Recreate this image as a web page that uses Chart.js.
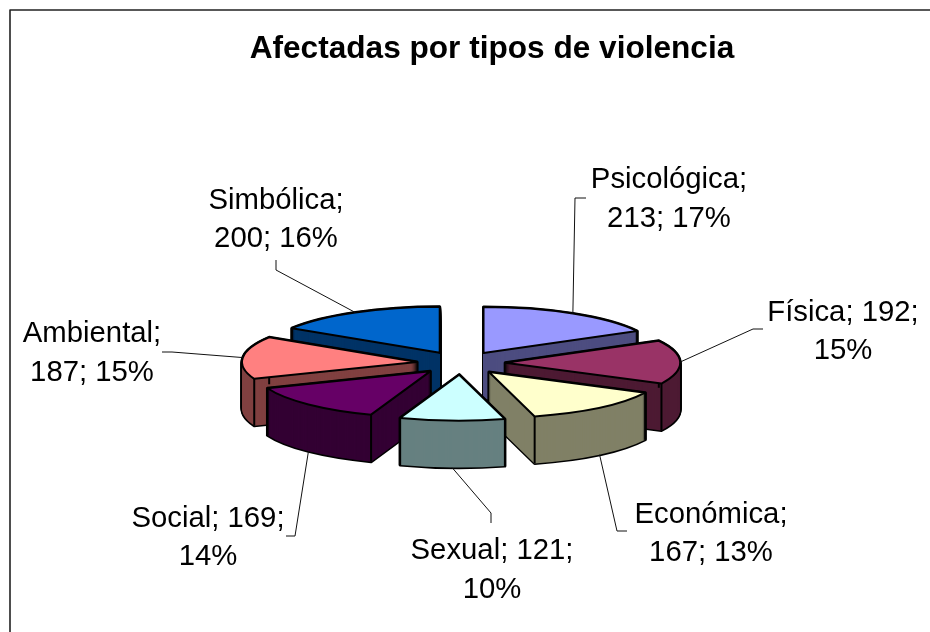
<!DOCTYPE html>
<html>
<head>
<meta charset="utf-8">
<title>Afectadas por tipos de violencia</title>
<script src="https://cdn.jsdelivr.net/npm/chart.js@4"></script>
<style>
  html, body { margin: 0; padding: 0; background: #fff; }
  canvas { display: block; }
</style>
</head>
<body>
<canvas id="chart" width="930" height="632"></canvas>
<script>
const categories = ['Psicológica', 'Física', 'Económica', 'Sexual', 'Social', 'Ambiental', 'Simbólica'];
const values = [213, 192, 167, 121, 169, 187, 200];
const percents = [17, 15, 13, 10, 14, 15, 16];
const topColors = ['#9999FF', '#993366', '#FFFFCC', '#CCFFFF', '#660066', '#FF8080', '#0066CC'];
const wallColors = ['#4D4D80', '#4D1A33', '#808066', '#668080', '#330033', '#804040', '#003366'];

// how the flat pie is tilted on the page
const center = { x: 461, y: 363 };
const tilt = 0.263;
const depth = 47;
const explode = 44;

// label lines: [centre x, first baseline, second baseline, break right after the name?]
const labelPos = [
  [669, 188, 227, true],
  [843, 321, 359, false],
  [711, 523, 561, true],
  [492, 559, 598, false],
  [208, 527, 565, false],
  [92, 342, 381, true],
  [276, 209, 247, true]
];
// leader line: elbow point, then the short tick towards the label
const leaderPos = [
  [575, 198, 586, 198],
  [753, 329, 763, 329],
  [617, 531, 627, 531],
  [491, 513, 491, 523],
  [295, 536, 286, 536],
  [172, 352, 162, 352],
  [276, 270, 276, 260]
];

function sliceGeom(el) {
  const mid = (el.startAngle + el.endAngle) / 2;
  // arc.draw nudges small slices outwards a little, follow it
  const off = explode + 1 - Math.sin(Math.min(Math.PI, el.circumference));
  return {
    mid,
    x: center.x + Math.cos(mid) * off,
    y: center.y + Math.sin(mid) * off * tilt,
    r: el.outerRadius
  };
}

function rimPoint(g, angle) {
  return [g.x + Math.cos(angle) * g.r, g.y + Math.sin(angle) * g.r * tilt];
}

function traceSlice(ctx, el, dz) {
  const g = sliceGeom(el);
  ctx.beginPath();
  ctx.moveTo(g.x, g.y + dz);
  ctx.ellipse(g.x, g.y + dz, g.r, g.r * tilt, 0, el.startAngle, el.endAngle);
  ctx.closePath();
}

function fillArc(ctx, el, color, dz) {
  const mid = (el.startAngle + el.endAngle) / 2;
  const old = el.options.backgroundColor;
  el.options.backgroundColor = color;
  ctx.save();
  ctx.translate(center.x, center.y + dz);
  ctx.scale(1, tilt);
  ctx.translate(Math.cos(mid) * explode - el.x, Math.sin(mid) * explode - el.y);
  el.draw(ctx);
  ctx.restore();
  el.options.backgroundColor = old;
}

const tiltedPie = {
  id: 'tiltedPie',
  beforeDatasetsDraw(chart) {
    const ctx = chart.ctx;
    const arcs = chart.getDatasetMeta(0).data.map((el, i) => ({ el, i }));
    // back slices first
    arcs.sort((a, b) => Math.sin((a.el.startAngle + a.el.endAngle) / 2) - Math.sin((b.el.startAngle + b.el.endAngle) / 2));
    ctx.lineJoin = 'round';
    arcs.forEach(({ el, i }) => {
      const g = sliceGeom(el);
      ctx.strokeStyle = '#000';
      ctx.lineWidth = 3;
      for (let dz = depth; dz >= 0; dz--) {
        traceSlice(ctx, el, dz);
        ctx.stroke();
      }
      for (let dz = depth; dz >= 0; dz--) fillArc(ctx, el, wallColors[i], dz);
      ctx.lineWidth = 2;
      [el.startAngle, el.endAngle].forEach(a => {
        const p = rimPoint(g, a);
        ctx.beginPath();
        ctx.moveTo(p[0], p[1]);
        ctx.lineTo(p[0], p[1] + depth);
        ctx.stroke();
      });
      fillArc(ctx, el, topColors[i], 0);
      traceSlice(ctx, el, 0);
      ctx.stroke();
    });
    return false;
  },
  afterDraw(chart) {
    const ctx = chart.ctx;
    // frame: only the top and left edges show in the picture
    ctx.strokeStyle = '#222';
    ctx.lineWidth = 1.6;
    ctx.beginPath();
    ctx.moveTo(10, 632);
    ctx.lineTo(10, 10);
    ctx.lineTo(930, 10);
    ctx.stroke();

    chart.getDatasetMeta(0).data.forEach((el, i) => {
      const g = sliceGeom(el);
      const rim = rimPoint(g, g.mid);
      const front = Math.sin(g.mid) > 0.3;
      const lead = leaderPos[i];
      ctx.strokeStyle = '#111';
      ctx.lineWidth = 1;
      ctx.beginPath();
      ctx.moveTo(rim[0], rim[1] + (front ? depth : 0));
      ctx.lineTo(lead[0], lead[1]);
      ctx.lineTo(lead[2], lead[3]);
      ctx.stroke();

      const pos = labelPos[i];
      const lines = pos[3]
        ? [categories[i] + ';', values[i] + '; ' + percents[i] + '%']
        : [categories[i] + '; ' + values[i] + ';', percents[i] + '%'];
      ctx.fillStyle = '#000';
      ctx.font = '29.3px "Liberation Sans"';
      ctx.textAlign = 'center';
      ctx.textBaseline = 'alphabetic';
      ctx.fillText(lines[0], pos[0], pos[1]);
      ctx.fillText(lines[1], pos[0], pos[2]);
    });
  }
};

new Chart(document.getElementById('chart').getContext('2d'), {
  type: 'pie',
  data: {
    labels: categories,
    datasets: [{
      data: values,
      backgroundColor: topColors,
      borderWidth: 0
    }]
  },
  options: {
    responsive: false,
    animation: false,
    radius: 175,
    layout: { padding: { left: 54 } },
    plugins: {
      legend: { display: false },
      tooltip: { enabled: false },
      title: {
        display: true,
        text: 'Afectadas por tipos de violencia',
        color: '#000',
        font: { family: '"Liberation Sans"', size: 31.6, weight: 'bold' },
        padding: { top: 30, bottom: 10 }
      }
    }
  },
  plugins: [tiltedPie]
});
</script>
</body>
</html>
